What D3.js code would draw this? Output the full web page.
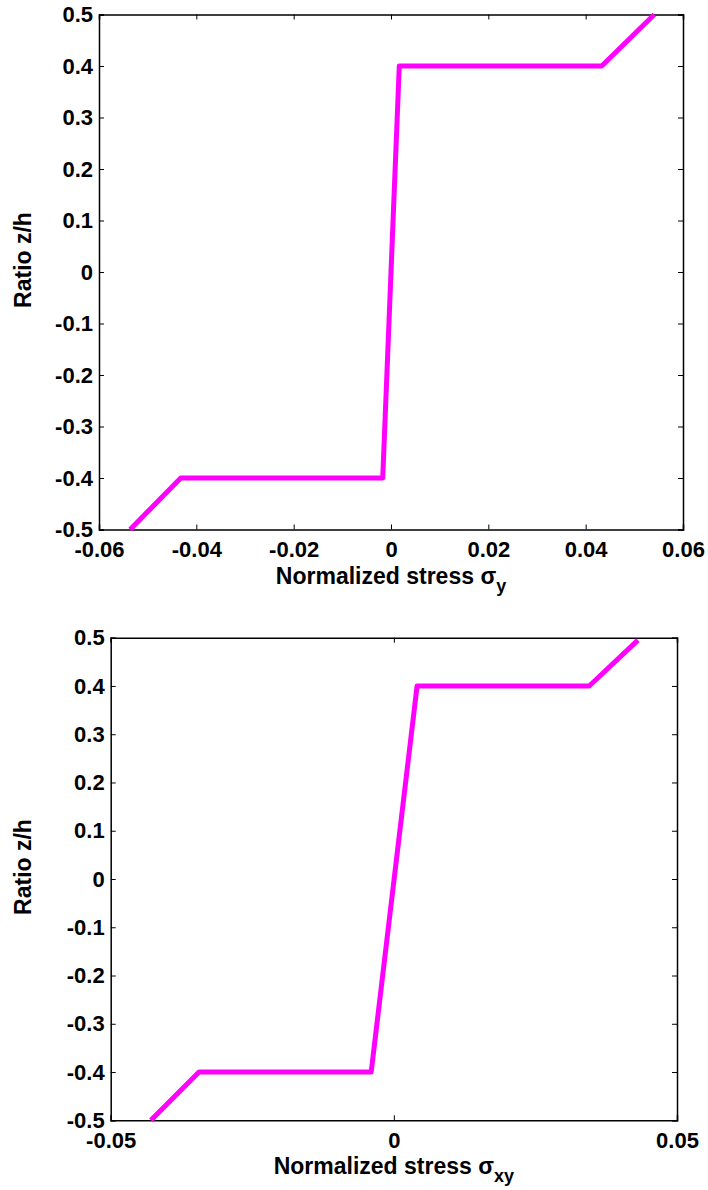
<!DOCTYPE html>
<html>
<head>
<meta charset="utf-8">
<script src="https://cdn.jsdelivr.net/npm/d3@7"></script>
<style>
  body { margin: 0; background: #fff; }
  svg { font-family: "Liberation Sans", Arial, sans-serif; font-weight: bold; }
</style>
</head>
<body>
<svg id="chart" width="708" height="1190"></svg>
<script>
// stress profile, top panel (sigma_y)
const sigmaY = [-0.0536, -0.0432, -0.0017, 0.0017, 0.0433, 0.0541];
const zTop = [-0.5, -0.4, -0.4, 0.4, 0.4, 0.5];
const xTicksTop = [-0.06, -0.04, -0.02, 0, 0.02, 0.04, 0.06];

// bottom panel (sigma_xy)
const sigmaXY = [-0.0429, -0.0344, -0.0040, 0.0041, 0.0345, 0.0431];
const zBottom = [-0.5, -0.4, -0.4, 0.4, 0.4, 0.495];
const xTicksBottom = [-0.05, 0, 0.05];

const yTicks = [-0.5, -0.4, -0.3, -0.2, -0.1, 0, 0.1, 0.2, 0.3, 0.4, 0.5];

const svg = d3.select('#chart');

function drawPanel(cfg) {
    const g = svg.append('g');
    const x = d3.scaleLinear().domain(cfg.xDomain).range([cfg.left, cfg.right]);
    const y = d3.scaleLinear().domain([-0.5, 0.5]).range([cfg.bottom, cfg.top]);
    // plain hyphen for negatives, like matlab
    const fmt = d => String(+d.toFixed(2));

    // inward ticks on all four sides
    const axes = [
        {axis: d3.axisBottom(x).tickValues(cfg.xTicks).tickSize(-5).tickPadding(12).tickFormat(fmt), t: `translate(0,${cfg.bottom})`},
        {axis: d3.axisTop(x).tickValues(cfg.xTicks).tickSize(-5).tickFormat(''), t: `translate(0,${cfg.top})`},
        {axis: d3.axisLeft(y).tickValues(yTicks).tickSize(-5).tickPadding(6).tickFormat(fmt), t: `translate(${cfg.left},0)`},
        {axis: d3.axisRight(y).tickValues(yTicks).tickSize(-5).tickFormat(''), t: `translate(${cfg.right},0)`}
    ];
    axes.forEach(a => {
        const ag = g.append('g').attr('transform', a.t).call(a.axis);
        ag.attr('font-size', 22).attr('font-family', '"Liberation Sans", Arial, sans-serif');
        ag.select('.domain').attr('stroke', '#000').attr('stroke-width', 1.5);
        ag.selectAll('.tick line').attr('stroke', '#000').attr('stroke-width', 1);
        ag.selectAll('.tick text')
            .attr('fill', '#000')
            .attr('font-size', 22)
            .attr('font-weight', 'bold');
    });

    const line = d3.line().x(d => x(d[0])).y(d => y(d[1]));
    g.append('path')
        .datum(d3.zip(cfg.xs, cfg.zs))
        .attr('d', line)
        .attr('fill', 'none')
        .attr('stroke', '#ff00ff')
        .attr('stroke-width', 5)
        .attr('stroke-linejoin', 'round');

    // x label with subscript
    const xl = g.append('text')
        .attr('x', (cfg.left + cfg.right) / 2)
        .attr('y', cfg.bottom + 54)
        .attr('text-anchor', 'middle')
        .attr('font-size', 23);
    xl.append('tspan').text('Normalized stress σ');
    xl.append('tspan').attr('dy', 8).attr('font-size', 18).text(cfg.sub);

    g.append('text')
        .attr('transform', `translate(31,${(cfg.top + cfg.bottom) / 2 - 12}) rotate(-90)`)
        .attr('text-anchor', 'middle')
        .attr('font-size', 23)
        .text('Ratio z/h');
}

drawPanel({left: 99, right: 683, top: 14.5, bottom: 529.5, xDomain: [-0.06, 0.06], xTicks: xTicksTop, xs: sigmaY, zs: zTop, sub: 'y'});
drawPanel({left: 110.7, right: 677, top: 637.7, bottom: 1120.3, xDomain: [-0.05, 0.05], xTicks: xTicksBottom, xs: sigmaXY, zs: zBottom, sub: 'xy'});
</script>
</body>
</html>
